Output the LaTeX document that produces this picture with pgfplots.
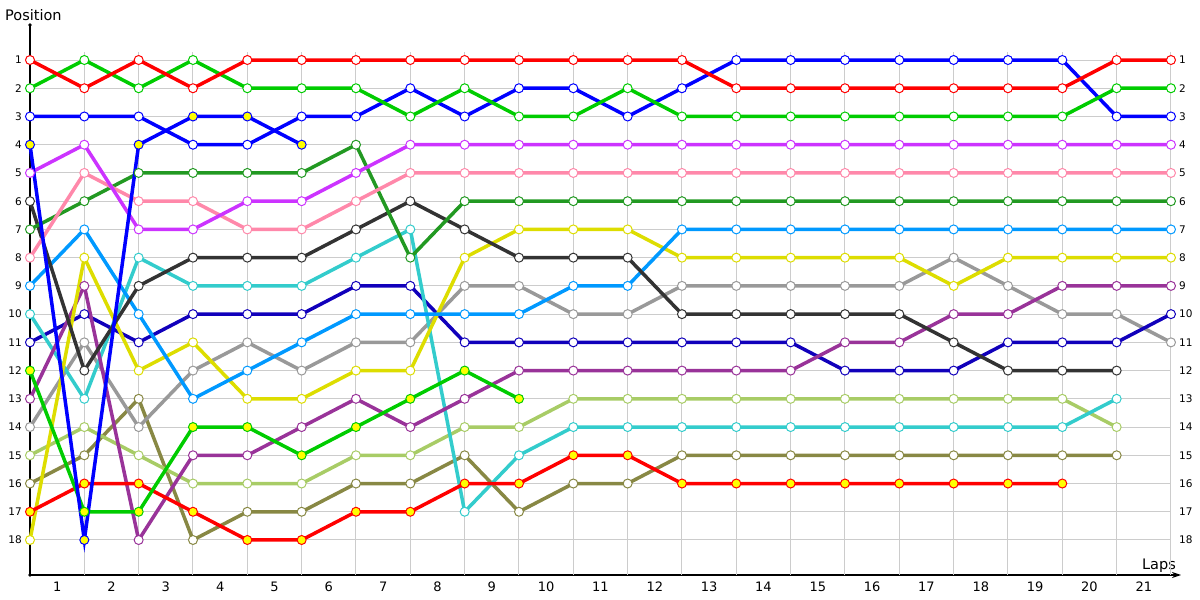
\documentclass[border=0pt]{standalone}
\usepackage{pgfplots}
\pgfplotsset{compat=1.18}
\usepackage{pgfplotstable}
\usepackage{fontspec}
\setmainfont{DejaVu Sans}
\usetikzlibrary{arrows.meta}

\definecolor{gridc}{HTML}{CCCCCC}
\definecolor{cRed}{HTML}{FF0000}
\definecolor{cGreen}{HTML}{00CC00}
\definecolor{cBlue}{HTML}{0000FF}
\definecolor{cViolet}{HTML}{CC33FF}
\definecolor{cPink}{HTML}{FF88AA}
\definecolor{cDkGreen}{HTML}{229922}
\definecolor{cBlack}{HTML}{333333}
\definecolor{cLtBlue}{HTML}{0099FF}
\definecolor{cYellow}{HTML}{DDDD00}
\definecolor{cPurple}{HTML}{993399}
\definecolor{cCyan}{HTML}{33CCCC}
\definecolor{cNavy}{HTML}{1100BB}
\definecolor{cGrey}{HTML}{999999}
\definecolor{cLtGreen}{HTML}{A8CC66}
\definecolor{cOlive}{HTML}{888844}
\definecolor{cPit}{HTML}{FFFF00}

\pgfplotstableread{
x  red green blueA blueB violet pink dkgreen black ltblue yellow purple cyan navy grey green2 ltgreen olive red2
0  1   2     3     4     5      8    7       6     9      18     13     10   11   14   12     15      16    17
1  2   1     3     18    4      5    6       12    7      8      9      13   10   11   17     14      15    16
2  1   2     3     4     7      6    5       9     10     12     18     8    11   14   17     15      13    16
3  2   1     4     3     7      6    5       8     13     11     15     9    10   12   14     16      18    17
4  1   2     4     3     6      7    5       8     12     13     15     9    10   11   14     16      17    18
5  1   2     3     4     6      7    5       8     11     13     14     9    10   12   15     16      17    18
6  1   2     3     nan   5      6    4       7     10     12     13     8    9    11   14     15      16    17
7  1   3     2     nan   4      5    8       6     10     12     14     7    9    11   13     15      16    17
8  1   2     3     nan   4      5    6       7     10     8      13     17   11   9    12     14      15    16
9  1   3     2     nan   4      5    6       8     10     7      12     15   11   9    13     14      17    16
10 1   3     2     nan   4      5    6       8     9      7      12     14   11   10   nan    13      16    15
11 1   2     3     nan   4      5    6       8     9      7      12     14   11   10   nan    13      16    15
12 1   3     2     nan   4      5    6       10    7      8      12     14   11   9    nan    13      15    16
13 2   3     1     nan   4      5    6       10    7      8      12     14   11   9    nan    13      15    16
14 2   3     1     nan   4      5    6       10    7      8      12     14   11   9    nan    13      15    16
15 2   3     1     nan   4      5    6       10    7      8      11     14   12   9    nan    13      15    16
16 2   3     1     nan   4      5    6       10    7      8      11     14   12   9    nan    13      15    16
17 2   3     1     nan   4      5    6       11    7      9      10     14   12   8    nan    13      15    16
18 2   3     1     nan   4      5    6       12    7      8      10     14   11   9    nan    13      15    16
19 2   3     1     nan   4      5    6       12    7      8      9      14   11   10   nan    13      15    16
20 1   2     3     nan   4      5    6       12    7      8      9      13   11   10   nan    14      15    nan
21 1   2     3     nan   4      5    6       nan   7      8      9      nan  10   11   nan    nan     nan   nan
}\laps

\newcommand{\ytfont}{\fontsize{10.5}{12}\selectfont}
\newcommand{\xtfont}{\fontsize{13}{15}\selectfont}

\begin{document}
\begin{tikzpicture}
\useasboundingbox (0,0) rectangle (1200pt,600pt);
% axis lines (below the plots)
\draw[black, line width=1.2pt] (30pt,575pt) -- (30pt,25pt);
\draw[black, line width=1.2pt, -{Stealth[length=9pt,width=6pt]}] (30pt,25pt) -- (1181pt,25pt);
\fill[black] (30pt,575pt) circle (1.8pt);
\fill[black] (30pt,25pt) circle (1.8pt);
\node[anchor=base west, font=\fontsize{14.5}{16}\selectfont, inner sep=0pt] at (5pt,579pt) {Position};
\node[anchor=base east, font=\fontsize{14.5}{16}\selectfont, inner sep=0pt] at (1176pt,30pt) {Laps};
\begin{axis}[
  at={(30pt,25pt)}, anchor=south west,
  scale only axis, width=1141pt, height=522.9pt,
  xmin=0, xmax=21, ymin=0.72, ymax=19.24, y dir=reverse,
  axis line style={draw=none},
  major tick length=0pt, minor tick length=0pt,
  xtick={0.5,1.5,...,20.5},
  xticklabels={1,2,3,4,5,6,7,8,9,10,11,12,13,14,15,16,17,18,19,20,21},
  minor xtick={1,2,...,21},
  ytick={1,2,...,18},
  yticklabels={1,2,3,4,5,6,7,8,9,10,11,12,13,14,15,16,17,18},
  xminorgrids=true, xmajorgrids=false, ymajorgrids=true,
  major grid style={gridc, line width=1pt},
  minor grid style={gridc, line width=1pt},
  xticklabel style={font=\xtfont, yshift=-3pt},
  yticklabel style={font=\ytfont, anchor=east, inner sep=0pt, xshift=-8pt},
  clip=false,
  every axis plot/.append style={line width=3.5pt, mark=*, mark size=4.5pt,
     mark options={solid, fill=white, line width=1pt}},
]
\addplot[cOlive] table[x=x,y=olive]{\laps};
\addplot[cLtGreen] table[x=x,y=ltgreen]{\laps};
\addplot[cGrey] table[x=x,y=grey]{\laps};
\addplot[cNavy] table[x=x,y=navy]{\laps};
\addplot[cCyan] table[x=x,y=cyan]{\laps};
\addplot[cPurple] table[x=x,y=purple]{\laps};
\addplot[cYellow] table[x=x,y=yellow]{\laps};
\addplot[cLtBlue] table[x=x,y=ltblue]{\laps};
\addplot[cBlack] table[x=x,y=black]{\laps};
\addplot[cDkGreen] table[x=x,y=dkgreen]{\laps};
\addplot[cPink] table[x=x,y=pink]{\laps};
\addplot[cViolet] table[x=x,y=violet]{\laps};
\addplot[cRed, mark options={solid, fill=cPit, line width=1pt}] table[x=x,y=red2]{\laps};
\addplot[cGreen, mark options={solid, fill=cPit, line width=1pt}] table[x=x,y=green2]{\laps};
\addplot[cBlue, mark options={solid, fill=cPit, line width=1pt}] table[x=x,y=blueB]{\laps};
\addplot[cBlue] table[x=x,y=blueA]{\laps};
\addplot[cGreen] table[x=x,y=green]{\laps};
\addplot[cRed] table[x=x,y=red]{\laps};
\pgfplotsinvokeforeach{1,...,18}{
  \node[anchor=west, font=\ytfont, inner sep=0pt] at (axis cs:21,#1) [xshift=8pt] {#1};
}
\end{axis}
\end{tikzpicture}
\end{document}
